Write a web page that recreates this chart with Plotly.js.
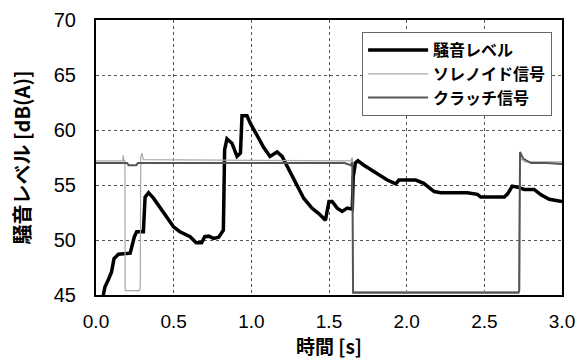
<!DOCTYPE html>
<html>
<head>
<meta charset="utf-8">
<script src="https://cdn.plot.ly/plotly-3.0.1.min.js"></script>
<style>
  html, body { margin: 0; padding: 0; background: #fff; }
  #chart { width: 575px; height: 364px; }
</style>
</head>
<body>
<div id="chart"></div>
<script>
// Noise level [dB(A)] over time [s]
const noiseTime = [0.047,0.058,0.08,0.10,0.116,0.144,0.22,0.23,0.247,0.262,0.305,0.316,0.338,0.37,0.413,0.456,0.499,0.54,0.606,0.645,0.68,0.70,0.725,0.757,0.79,0.82,0.828,0.843,0.875,0.908,0.93,0.94,0.972,0.994,1.037,1.08,1.12,1.166,1.198,1.23,1.284,1.337,1.39,1.434,1.477,1.50,1.52,1.553,1.585,1.617,1.65,1.656,1.67,1.686,1.725,1.79,1.875,1.93,1.95,2.058,2.11,2.177,2.22,2.39,2.456,2.477,2.628,2.65,2.68,2.714,2.757,2.82,2.865,2.918,3.0];
const noiseLevel = [45.0,45.75,46.4,47.1,48.3,48.7,48.8,49.4,50.3,50.75,50.75,53.9,54.3,53.8,52.9,52.0,51.2,50.75,50.3,49.75,49.75,50.3,50.35,50.15,50.25,50.9,58.2,59.2,58.8,57.6,57.9,61.3,61.3,60.6,59.5,58.4,57.6,58.0,57.6,56.7,55.2,53.8,52.9,52.4,51.8,53.5,53.5,52.9,52.6,52.9,52.8,55.75,57.0,57.2,56.8,56.2,55.45,55.1,55.45,55.45,55.15,54.4,54.3,54.3,54.15,53.9,53.9,54.2,54.9,54.8,54.6,54.6,54.1,53.7,53.5];

// Solenoid signal (plotted on the dB scale)
const solenoidTime = [0,0.172,0.175,0.180,0.186,0.188,0.280,0.285,0.288,0.295,0.305,1.640,1.650,1.655,2.720,2.728,2.735,2.760,3.0];
const solenoidLevel = [57.2,57.2,57.7,57.2,57.2,45.4,45.4,45.7,57.5,57.9,57.3,57.2,57.5,45.3,45.3,57.8,57.4,57.1,57.1];

// Clutch signal (plotted on the dB scale)
const clutchTime = [0,0.20,0.21,0.26,0.27,1.60,1.64,1.65,1.655,2.72,2.725,2.73,2.75,2.80,2.90,3.0];
const clutchLevel = [57.0,57.0,56.8,56.8,57.0,57.0,56.8,57.1,45.2,45.2,45.4,58.0,57.4,57.0,57.0,56.9];

const seriesNames = ['騒音レベル', 'ソレノイド信号', 'クラッチ信号'];
const xTicks = [0.0, 0.5, 1.0, 1.5, 2.0, 2.5, 3.0];
const yTicks = [45, 50, 55, 60, 65, 70];

const latin = 'Liberation Sans, Arial, sans-serif';
const jp = 'Noto Sans CJK JP, Liberation Sans, sans-serif';

const traces = [
  { x: noiseTime, y: noiseLevel, name: seriesNames[0], mode: 'lines',
    line: { color: '#000', width: 3.5 } },
  { x: solenoidTime, y: solenoidLevel, name: seriesNames[1], mode: 'lines',
    line: { color: '#a8a8a8', width: 1.2 } },
  { x: clutchTime, y: clutchLevel, name: seriesNames[2], mode: 'lines',
    line: { color: '#555', width: 2 } }
];

const layout = {
  width: 575, height: 364,
  margin: { l: 96, r: 13, t: 20, b: 69 },
  paper_bgcolor: '#fff', plot_bgcolor: '#fff',
  showlegend: true,
  legend: {
    x: 0.571, y: 0.956, xanchor: 'left', yanchor: 'top',
    bgcolor: '#fff', bordercolor: '#666', borderwidth: 1,
    font: { family: jp, size: 16, color: '#000', weight: 'bold' },
    itemwidth: 60, tracegroupgap: 0
  },
  xaxis: {
    range: [0, 3], tickvals: xTicks, tickformat: '.1f',
    showgrid: true, gridcolor: '#555', griddash: 'dot', gridwidth: 1,
    showline: true, linecolor: '#000', linewidth: 2, mirror: true,
    zeroline: false, ticks: '',
    ticklabelstandoff: 8, ticklabeloverflow: 'allow',
    tickfont: { family: latin, size: 19, color: '#000' },
    title: { text: '時間 [s]', standoff: 4,
             font: { family: jp, size: 19, color: '#000', weight: 'bold' } }
  },
  yaxis: {
    range: [45, 70], tickvals: yTicks,
    showgrid: true, gridcolor: '#555', griddash: 'dot', gridwidth: 1,
    showline: true, linecolor: '#000', linewidth: 2, mirror: true,
    zeroline: false, ticks: '',
    ticklabelstandoff: 14,
    tickfont: { family: latin, size: 20, color: '#000' },
    title: { text: '騒音レベル [dB(A)]', standoff: 18,
             font: { family: jp, size: 20, color: '#000', weight: 'bold' } }
  }
};

Plotly.newPlot('chart', traces, layout, { displayModeBar: false, staticPlot: true });
</script>
</body>
</html>
